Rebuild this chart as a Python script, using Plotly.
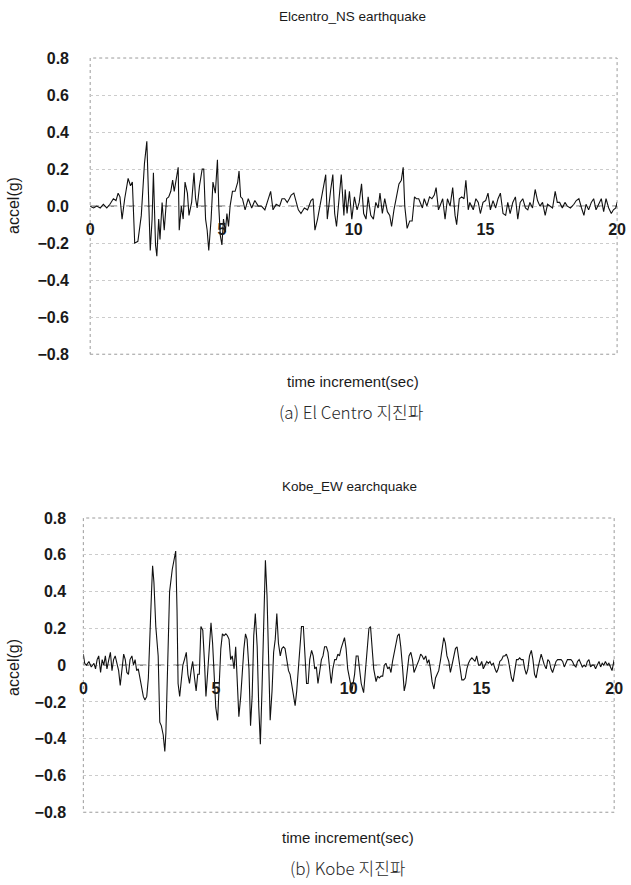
import plotly.graph_objects as go

# ---------------- data ----------------
elc_t = [0.00, 0.13, 0.25, 0.38, 0.50, 0.63, 0.75, 0.88, 0.98, 1.06, 1.13, 1.21, 1.31, 1.44, 1.53, 1.60,
         1.69, 1.81, 1.94, 2.06, 2.15, 2.23, 2.28, 2.35, 2.40, 2.48, 2.53, 2.60, 2.65, 2.73, 2.81, 2.90,
         2.98, 3.06, 3.13, 3.19, 3.25, 3.34, 3.38, 3.46, 3.53, 3.60, 3.69, 3.75, 3.85, 3.94, 4.00, 4.06,
         4.15, 4.25, 4.31, 4.38, 4.44, 4.50, 4.59, 4.66, 4.75, 4.83, 4.88, 4.94, 5.00, 5.06, 5.13, 5.19,
         5.25, 5.31, 5.40, 5.50, 5.60, 5.65, 5.71, 5.78, 5.88, 6.00, 6.13, 6.25, 6.38, 6.50, 6.63, 6.75,
         6.85, 6.94, 7.06, 7.19, 7.28, 7.38, 7.48, 7.56, 7.63, 7.73, 7.81, 7.90, 8.00, 8.13, 8.25, 8.38,
         8.46, 8.53, 8.63, 8.75, 8.85, 8.94, 9.00, 9.06, 9.13, 9.21, 9.28, 9.35, 9.53, 9.63, 9.68, 9.75,
         9.84, 9.93, 10.03, 10.13, 10.21, 10.30, 10.38, 10.47, 10.55, 10.65, 10.75, 10.84, 10.93, 11.00,
         11.09, 11.18, 11.28, 11.37, 11.44, 11.53, 11.63, 11.72, 11.81, 11.88, 11.94, 12.03, 12.13, 12.22,
         12.31, 12.38, 12.47, 12.53, 12.61, 12.68, 12.78, 12.88, 12.97, 13.06, 13.13, 13.22, 13.31, 13.38,
         13.47, 13.56, 13.66, 13.76, 13.85, 13.91, 14.01, 14.10, 14.19, 14.26, 14.35, 14.41, 14.54, 14.64,
         14.73, 14.81, 14.91, 15.01, 15.10, 15.19, 15.29, 15.39, 15.48, 15.57, 15.67, 15.77, 15.85, 15.94,
         16.04, 16.14, 16.23, 16.32, 16.42, 16.52, 16.61, 16.69, 16.79, 16.89, 16.98, 17.07, 17.17, 17.27,
         17.36, 17.45, 17.55, 17.65, 17.73, 17.82, 17.92, 18.02, 18.11, 18.23, 18.36, 18.45, 18.55, 18.65,
         18.74, 18.82, 18.92, 19.02, 19.11, 19.20, 19.30, 19.40, 19.49, 19.58, 19.68, 19.78, 19.86, 19.95,
         20.00]
elc_a = [0.00, -0.01, 0.00, -0.01, 0.01, -0.01, 0.01, 0.04, 0.03, 0.07, 0.05, -0.07, 0.04, 0.15, 0.11, 0.13,
         -0.20, -0.19, -0.05, 0.23, 0.35, -0.02, -0.24, -0.07, 0.18, -0.21, -0.27, -0.07, -0.18, 0.02, -0.13, 0.04,
         0.05, 0.08, 0.14, 0.08, 0.13, 0.21, -0.13, 0.00, -0.07, 0.13, 0.07, -0.05, 0.02, 0.18, 0.04, -0.01,
         0.11, 0.20, 0.20, -0.07, -0.13, -0.24, -0.07, 0.13, 0.07, 0.25, 0.00, -0.16, -0.21, -0.07, -0.14, -0.04,
         -0.11, 0.00, 0.08, 0.08, 0.13, 0.19, 0.05, 0.04, -0.02, 0.04, -0.01, 0.03, 0.00, 0.00, -0.02, 0.03,
         0.08, -0.02, 0.01, 0.00, 0.04, 0.04, 0.02, 0.04, 0.06, 0.07, 0.02, -0.02, -0.04, -0.01, -0.02, 0.03,
         0.04, -0.13, -0.07, 0.02, 0.09, 0.17, -0.07, 0.01, 0.09, 0.17, -0.04, -0.11, 0.17, -0.05, 0.09, -0.04,
         0.08, -0.07, 0.05, -0.02, 0.02, 0.12, -0.04, -0.07, 0.05, -0.05, -0.07, 0.02, -0.01, 0.07,
         -0.04, 0.04, -0.03, -0.05, -0.11, -0.02, 0.05, 0.12, 0.14, 0.21, 0.00, -0.12, -0.08, -0.08,
         0.05, 0.04, 0.04, 0.02, -0.01, 0.04, 0.00, 0.05, 0.04, 0.06, 0.10, -0.02, 0.02, 0.04,
         -0.07, 0.04, 0.00, 0.10, -0.05, -0.10, 0.04, 0.05, 0.04, 0.14, -0.02, 0.02, -0.02, 0.04,
         0.02, -0.04, 0.02, 0.03, 0.07, -0.02, 0.03, -0.01, 0.04, 0.07, -0.04, -0.05, 0.02, -0.04,
         0.02, 0.05, -0.07, 0.02, 0.04, -0.01, -0.02, 0.02, -0.01, 0.09, 0.03, 0.00, 0.02, -0.05,
         0.01, 0.00, -0.01, 0.08, 0.02, 0.02, -0.01, 0.02, 0.00, -0.01, 0.01, 0.03, 0.04, -0.01,
         -0.05, 0.01, -0.02, 0.02, 0.04, -0.02, 0.01, 0.04, -0.03, 0.04, -0.01, -0.04, -0.02, -0.01,
         0.02]

kobe_t = [0.00, 0.05, 0.12, 0.21, 0.30, 0.40, 0.46, 0.52, 0.58, 0.65, 0.71, 0.77, 0.83, 0.89, 0.96, 1.02,
          1.08, 1.14, 1.20, 1.27, 1.33, 1.39, 1.45, 1.52, 1.58, 1.64, 1.70, 1.76, 1.83, 1.89, 1.95, 2.01,
          2.07, 2.14, 2.20, 2.26, 2.32, 2.39, 2.45, 2.51, 2.57, 2.61, 2.66, 2.73, 2.82, 2.88, 2.94, 3.01,
          3.07, 3.11, 3.17, 3.25, 3.35, 3.44, 3.48, 3.53, 3.57, 3.63, 3.69, 3.75, 3.81, 3.88, 3.94, 4.00,
          4.06, 4.12, 4.19, 4.25, 4.31, 4.37, 4.43, 4.50, 4.56, 4.62, 4.68, 4.75, 4.81, 4.87, 4.93, 4.99,
          5.06, 5.12, 5.18, 5.24, 5.30, 5.37, 5.43, 5.49, 5.55, 5.61, 5.68, 5.74, 5.80, 5.86, 5.93, 5.99,
          6.05, 6.11, 6.17, 6.24, 6.30, 6.36, 6.42, 6.48, 6.55, 6.61, 6.67, 6.73, 6.80, 6.86, 6.92, 6.98,
          7.04, 7.11, 7.17, 7.23, 7.29, 7.35, 7.42, 7.48, 7.54, 7.60, 7.66, 7.73, 7.79, 7.85, 7.91, 7.98,
          8.04, 8.10, 8.16, 8.22, 8.29, 8.35, 8.41, 8.47, 8.53, 8.60, 8.66, 8.72, 8.78, 8.84, 8.91, 8.97,
          9.03, 9.09, 9.16, 9.22, 9.28, 9.34, 9.40, 9.47, 9.53, 9.59, 9.65, 9.71, 9.84, 9.90, 9.96, 10.05,
          10.12, 10.22, 10.28, 10.35, 10.41, 10.47, 10.56, 10.62, 10.69, 10.76, 10.82, 10.87, 10.94, 11.03,
          11.09, 11.15, 11.22, 11.28, 11.34, 11.40, 11.47, 11.53, 11.59, 11.65, 11.71, 11.78, 11.84, 11.90,
          11.96, 12.03, 12.09, 12.15, 12.21, 12.27, 12.34, 12.40, 12.46, 12.52, 12.59, 12.65, 12.71, 12.77,
          12.83, 12.90, 12.96, 13.02, 13.08, 13.14, 13.21, 13.27, 13.33, 13.39, 13.46, 13.52, 13.58, 13.64,
          13.70, 13.77, 13.83, 13.89, 13.95, 14.02, 14.08, 14.14, 14.20, 14.26, 14.33, 14.39, 14.45, 14.51,
          14.58, 14.64, 14.70, 14.76, 14.82, 14.89, 14.95, 15.01, 15.07, 15.13, 15.20, 15.26, 15.32, 15.38,
          15.45, 15.51, 15.57, 15.63, 15.69, 15.76, 15.82, 15.88, 15.94, 16.01, 16.07, 16.13, 16.19, 16.25,
          16.32, 16.38, 16.44, 16.50, 16.57, 16.63, 16.69, 16.75, 16.81, 16.88, 16.94, 17.00, 17.06, 17.12,
          17.19, 17.25, 17.31, 17.37, 17.44, 17.50, 17.56, 17.62, 17.68, 17.75, 17.81, 17.87, 17.93, 18.00,
          18.06, 18.12, 18.18, 18.24, 18.31, 18.37, 18.43, 18.49, 18.56, 18.62, 18.68, 18.74, 18.80, 18.87,
          18.93, 18.99, 19.05, 19.11, 19.18, 19.24, 19.30, 19.36, 19.43, 19.49, 19.55, 19.61, 19.67, 19.74,
          19.80, 19.86, 19.92, 20.00]
kobe_a = [0.06, 0.01, 0.00, 0.02, -0.01, 0.01, -0.02, 0.03, 0.05, -0.04, 0.03, 0.00, 0.05, -0.02, 0.03, 0.07,
          -0.03, 0.03, 0.05, 0.00, -0.03, -0.11, -0.02, 0.06, 0.03, -0.04, -0.05, 0.03, 0.05, 0.00, 0.03, -0.03,
          -0.02, -0.07, -0.13, -0.17, -0.19, -0.17, -0.07, 0.21, 0.40, 0.54, 0.45, 0.21, 0.05, -0.31, -0.33, -0.38,
          -0.47, -0.37, -0.05, 0.40, 0.52, 0.58, 0.62, 0.30, -0.10, -0.17, -0.10, 0.00, 0.03, 0.07, -0.05, -0.10,
          -0.03, 0.02, -0.07, -0.14, -0.05, -0.05, 0.21, 0.19, 0.03, -0.17, -0.05, 0.12, 0.23, 0.12, -0.10, -0.23,
          -0.30, -0.10, 0.09, 0.17, 0.16, 0.17, 0.16, 0.14, 0.03, 0.05, -0.02, 0.10, -0.09, -0.28, -0.17, -0.02,
          0.09, 0.17, 0.14, -0.02, -0.33, -0.17, 0.16, 0.28, 0.10, -0.23, -0.43, -0.14, 0.30, 0.57, 0.38, 0.03,
          -0.30, -0.14, 0.07, 0.14, 0.28, 0.12, 0.05, 0.09, 0.10, 0.09, 0.03, -0.03, -0.05, -0.10, -0.17, -0.22,
          -0.14, -0.02, 0.12, 0.21, 0.21, 0.07, -0.10, -0.10, 0.03, 0.08, 0.05, -0.02, -0.01, -0.10, -0.03, 0.03,
          0.05, 0.10, 0.10, 0.07, -0.02, -0.10, -0.02, 0.03, 0.03, 0.06, 0.05, 0.09, 0.15, 0.09, -0.02, -0.10,
          -0.14, -0.05, 0.05, 0.05, -0.02, -0.10, -0.15, -0.03, 0.09, 0.20, 0.21, 0.10, -0.02, -0.09,
          -0.06, -0.07, -0.06, -0.06, 0.00, 0.01, -0.02, -0.01, -0.04, 0.02, 0.07, 0.12, 0.16, 0.17,
          0.10, -0.02, -0.14, -0.10, -0.02, 0.05, 0.07, 0.03, -0.04, -0.02, 0.01, 0.03, 0.06, 0.05,
          0.03, 0.05, 0.01, 0.03, -0.02, -0.09, -0.13, -0.07, -0.05, -0.03, 0.03, 0.10, 0.15, 0.12,
          0.05, 0.02, -0.04, 0.00, 0.05, 0.09, 0.10, 0.03, -0.03, -0.08, -0.08, -0.07, -0.02, 0.01,
          0.03, 0.04, 0.03, 0.02, 0.05, 0.00, 0.00, 0.02, -0.02, 0.00, 0.02, 0.01, 0.02, 0.00,
          0.01, -0.02, -0.04, -0.02, 0.02, 0.03, 0.05, 0.05, 0.06, 0.03, -0.03, -0.07, -0.09, -0.03,
          0.03, 0.03, 0.04, 0.03, 0.03, -0.02, -0.05, -0.02, 0.05, 0.08, 0.03, -0.05, -0.07, -0.02,
          0.03, 0.06, 0.03, 0.00, -0.02, 0.03, 0.02, -0.02, -0.04, -0.01, 0.02, 0.03, 0.03, 0.03,
          0.02, -0.01, 0.01, 0.03, 0.03, 0.03, 0.02, 0.00, -0.01, 0.02, 0.03, 0.01, -0.01, 0.00,
          -0.01, 0.02, 0.03, -0.01, 0.00, 0.00, -0.02, 0.00, 0.02, -0.01, 0.01, 0.00, 0.02, 0.00,
          0.01, -0.01, -0.03, 0.03]

x_ticks = [0, 5, 10, 15, 20]
x_ticktext = ["0", "5", "10", "15", "20"]
y_ticks = [0.8, 0.6, 0.4, 0.2, 0.0, -0.2, -0.4, -0.6, -0.8]
y_ticktext_top = ["0.8", "0.6", "0.4", "0.2", "0.0", "\u22120.2", "\u22120.4", "\u22120.6", "\u22120.8"]
y_ticktext_bot = ["0.8", "0.6", "0.4", "0.2", "0", "\u22120.2", "\u22120.4", "\u22120.6", "\u22120.8"]

title_top = "Elcentro_NS earthquake"
title_bot = "Kobe_EW earchquake"
x_title = "time increment(sec)"
y_title = "accel(g)"
caption_top = "(a) El Centro 지진파"
caption_bot = "(b) Kobe 지진파"

# ---------------- layout geometry (pixels) ----------------
W, H = 631, 885
def px(x): return x / W
def py(y): return 1 - y / H

top_x = [px(88), px(626)]
top_y = [py(353), py(51)]
bot_x = [px(81), px(623)]
bot_y = [py(820), py(520)]

FONT = "Liberation Sans, Arial, sans-serif"
tick_font = dict(family=FONT, size=16, color="#1a1a1a", weight="bold")

fig = go.Figure()
fig.add_trace(go.Scatter(x=elc_t, y=elc_a, mode="lines", xaxis="x", yaxis="y",
                         line=dict(color="#111", width=1.1), showlegend=False))
fig.add_trace(go.Scatter(x=kobe_t, y=kobe_a, mode="lines", xaxis="x2", yaxis="y2",
                         line=dict(color="#111", width=1.1), showlegend=False))

def xaxis_cfg(dom, pos):
    return dict(domain=dom, range=[0, 20], anchor="free", position=pos,
                tickvals=x_ticks, ticktext=x_ticktext, ticks="outside", ticklen=9,
                tickcolor="rgba(0,0,0,0)", tickfont=tick_font, showgrid=False, zeroline=False,
                showline=False, ticklabeloverflow="allow")

def yaxis_cfg(dom, anchor, ticktext, ticklen):
    return dict(domain=dom, range=[-0.8, 0.8], anchor=anchor, tickvals=y_ticks, ticktext=ticktext,
                ticks="outside", ticklen=ticklen, tickcolor="rgba(0,0,0,0)", tickfont=tick_font,
                showgrid=True, gridcolor="#cccccc", griddash="dot", gridwidth=1,
                zeroline=False, showline=False)

fig.update_layout(
    width=W, height=H, margin=dict(l=0, r=0, t=0, b=0),
    paper_bgcolor="white", plot_bgcolor="white",
    xaxis=xaxis_cfg(top_x, (top_y[0] + top_y[1]) / 2),
    yaxis=yaxis_cfg(top_y, "x", y_ticktext_top, 17),
    xaxis2=xaxis_cfg(bot_x, (bot_y[0] + bot_y[1]) / 2),
    yaxis2=yaxis_cfg(bot_y, "x2", y_ticktext_bot, 13),
)

shapes = []
for xr, yr in [("x domain", "y domain"), ("x2 domain", "y2 domain")]:
    shapes.append(dict(type="rect", xref=xr, yref=yr, x0=0, x1=1, y0=0, y1=1,
                       line=dict(color="#9a9a9a", width=1, dash="dot"), layer="below"))
for xr, yr in [("x domain", "y"), ("x2 domain", "y2")]:
    shapes.append(dict(type="line", xref=xr, yref=yr, x0=0, x1=1, y0=0, y1=0,
                       line=dict(color="#444", width=1, dash="dash"), layer="below"))
fig.update_layout(shapes=shapes)

ann = []
def text(x, y, s, size, family=FONT, color="#1a1a1a", angle=0, weight="normal"):
    ann.append(dict(x=px(x), y=py(y), xref="paper", yref="paper", text=s, showarrow=False,
                    xanchor="center", yanchor="middle", textangle=angle,
                    font=dict(family=family, size=size, color=color, weight=weight)))

text(356, 9, title_top, 13.5)
text(353, 488, title_bot, 13.5)
text(9, 201, y_title, 16, angle=-90)
text(9, 672, y_title, 16, angle=-90)
text(356, 381, x_title, 15)
text(351, 846, x_title, 15)
text(355, 411, caption_top, 17, family="Noto Sans CJK KR", color="#2a2a2a", weight=300)
text(351, 876, caption_bot, 17, family="Noto Sans CJK KR", color="#2a2a2a", weight=300)
fig.update_layout(annotations=ann)

fig.write_html("out.html")
